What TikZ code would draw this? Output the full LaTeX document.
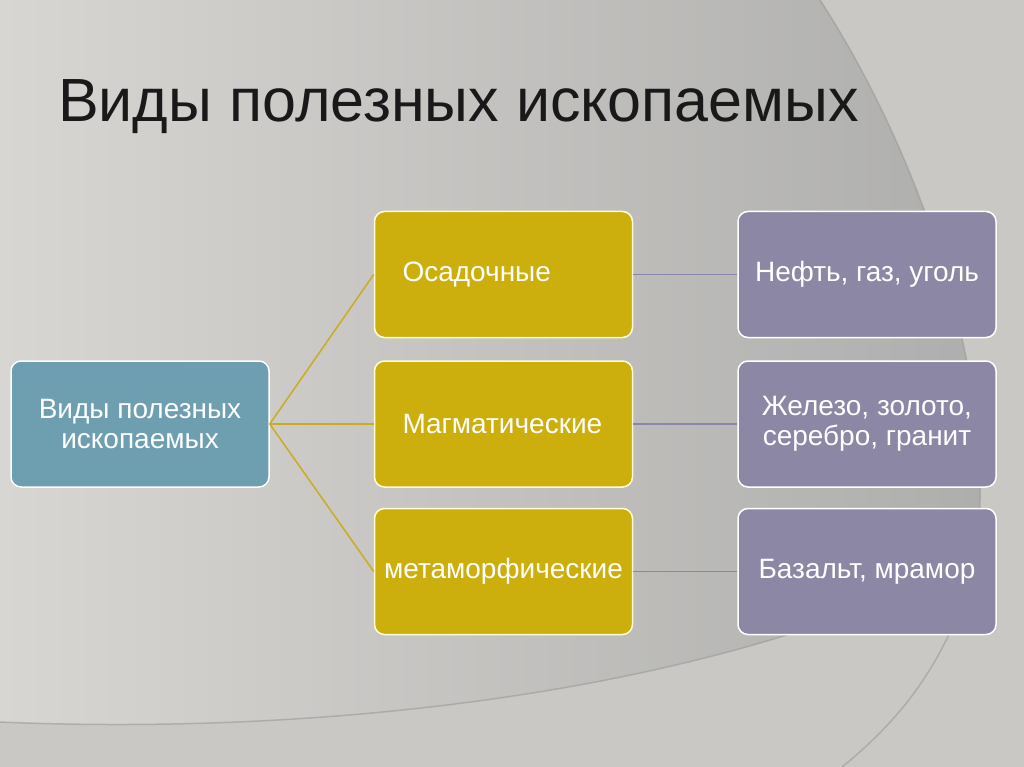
\documentclass[tikz,border=0pt]{standalone}
\usepackage{fontspec}
\setmainfont{Liberation Sans}
\usetikzlibrary{positioning}

\definecolor{paper}{HTML}{CAC8C5}
\definecolor{swooshL}{HTML}{D8D6D3}
\definecolor{swooshR}{HTML}{ADADAB}
\definecolor{edge}{HTML}{9A9A98}
\definecolor{rootfill}{HTML}{6E9FB0}
\definecolor{kindfill}{HTML}{CCAE0C}
\definecolor{kindline}{HTML}{C9AD1C}
\definecolor{orefill}{HTML}{8B87A4}
\definecolor{oreline}{HTML}{8A86AA}

\begin{document}
\begin{tikzpicture}[x=1pt, y=-1pt,
    box/.style={draw=white, line width=1.5pt, rounded corners=10pt,
      minimum width=258pt, minimum height=126pt, inner sep=0pt,
      text=white, align=center, font=\fontsize{28}{30}\selectfont},
    rootbox/.style={box, fill=rootfill},
    kindbox/.style={box, fill=kindfill, draw=white!85!yellow},
    orebox/.style={box, fill=orefill},
    kindlink/.style={draw=kindline, line width=1.5pt},
    orelink/.style={draw=oreline, line width=1.5pt}]

  % background
  \useasboundingbox (0,0) rectangle (1024,767);
  \fill[paper] (0,0) rectangle (1024,767);
  \shade[left color=swooshL, right color=swooshR]
    (0,0) -- (820,0) .. controls (930,170) and (1000,400) .. (975,560)
    .. controls (700,700) and (300,735) .. (0,722) -- cycle;
  \draw[edge, line width=1.5pt, opacity=.6] (820,0) .. controls (930,170) and (1000,400) .. (975,560)
    .. controls (700,700) and (300,735) .. (0,722);
  \draw[edge, line width=1.5pt, opacity=.6] (975,560) .. controls (950,660) and (900,720) .. (842,767);

  % title
  \node[anchor=base west, inner sep=0pt, text=black!90,
    font=\fontsize{61}{70}\selectfont] (title) at (58,122) {Виды полезных ископаемых};

  % tree
  \node[rootbox] (root) at (140,424) {Виды полезных\\ископаемых};
  \node[kindbox, right=104pt of root, text width=202pt, align=left] (magm) {Магматические};
  \node[kindbox, above=22pt of magm, text width=202pt, align=left] (sedim) {Осадочные};
  \node[kindbox, below=20pt of magm] (metam) {метаморфические};
  \node[orebox, right=104pt of sedim] (oreA) {Нефть, газ, уголь};
  \node[orebox, right=104pt of magm] (oreB) {Железо, золото,\\серебро, гранит};
  \node[orebox, right=104pt of metam] (oreC) {Базальт, мрамор};

  \draw[kindlink] (root.east) -- (sedim.west);
  \draw[kindlink] (root.east) -- (magm.west);
  \draw[kindlink] (root.east) -- (metam.west);
  \draw[orelink] (sedim.east) -- (oreA.west);
  \draw[orelink] (magm.east) -- (oreB.west);
  \draw[orelink] (metam.east) -- (oreC.west);
\end{tikzpicture}
\end{document}
